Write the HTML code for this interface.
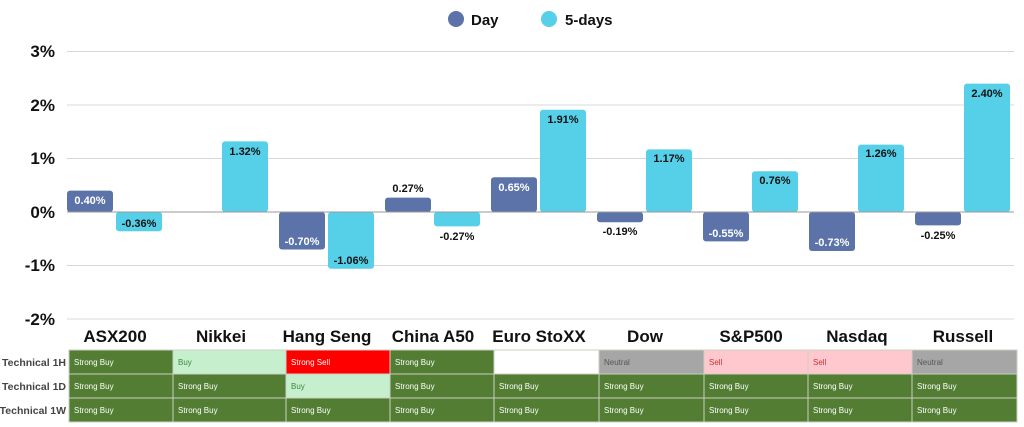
<!DOCTYPE html>
<html><head><meta charset="utf-8"><style>
body{margin:0;background:#fff;width:1024px;height:427px;overflow:hidden;font-family:"Liberation Sans",sans-serif}
svg{display:block}
.ax{font:bold 17px "Liberation Sans",sans-serif;fill:#111}
.cat{font:bold 17px "Liberation Sans",sans-serif;fill:#111;text-anchor:middle}
.lb{font:bold 11px "Liberation Sans",sans-serif;text-anchor:middle}
.w{fill:#fff}.k{fill:#111}
.rl{font:bold 10.5px "Liberation Sans",sans-serif;fill:#444;text-anchor:end}
.ct{font:8px "Liberation Sans",sans-serif}
</style></head><body>
<svg width="1024" height="427" viewBox="0 0 1024 427">
<!-- legend -->
<circle cx="456" cy="19" r="8" fill="#5b73a8"/><text x="471" y="25" style="font:bold 15px 'Liberation Sans',sans-serif" fill="#111">Day</text>
<circle cx="549" cy="19" r="8" fill="#56cfe8"/><text x="565" y="25" style="font:bold 15px 'Liberation Sans',sans-serif" fill="#111">5-days</text>
<!-- grid -->
<g stroke="#d4d8dd" stroke-width="1">
<line x1="67" x2="1014" y1="51.5" y2="51.5"/><line x1="67" x2="1014" y1="105" y2="105"/>
<line x1="67" x2="1014" y1="158.5" y2="158.5"/><line x1="67" x2="1014" y1="265.5" y2="265.5"/>
<line x1="67" x2="1014" y1="319" y2="319"/></g>
<g class="ax" text-anchor="end">
<text x="55" y="57">3%</text><text x="55" y="111">2%</text><text x="55" y="164">1%</text>
<text x="55" y="218">0%</text><text x="55" y="271">-1%</text><text x="55" y="325">-2%</text></g>
<!-- bars -->
<g fill="#5b73a8">
<rect x="67" y="190.6" width="46" height="21.4" rx="3"/>
<rect x="279" y="212" width="46" height="37.5" rx="3"/>
<rect x="385" y="197.6" width="46" height="14.4" rx="3"/>
<rect x="491" y="177.2" width="46" height="34.8" rx="3"/>
<rect x="597" y="212" width="46" height="10.2" rx="3"/>
<rect x="703" y="212" width="46" height="29.4" rx="3"/>
<rect x="809" y="212" width="46" height="39" rx="3"/>
<rect x="915" y="212" width="46" height="13.4" rx="3"/>
</g>
<g fill="#56cfe8">
<rect x="116" y="212" width="46" height="19.3" rx="3"/>
<rect x="222" y="141.4" width="46" height="70.6" rx="3"/>
<rect x="328" y="212" width="46" height="56.7" rx="3"/>
<rect x="434" y="212" width="46" height="14.4" rx="3"/>
<rect x="540" y="109.8" width="46" height="102.2" rx="3"/>
<rect x="646" y="149.4" width="46" height="62.6" rx="3"/>
<rect x="752" y="171.3" width="46" height="40.7" rx="3"/>
<rect x="858" y="144.6" width="46" height="67.4" rx="3"/>
<rect x="964" y="83.6" width="46" height="128.4" rx="3"/>
</g>
<line x1="67" x2="1014" y1="212" y2="212" stroke="#999" stroke-width="1"/>
<!-- labels -->
<g class="lb">
<text class="w" x="90" y="204">0.40%</text><text class="k" x="139" y="227">-0.36%</text>
<text class="k" x="245" y="155">1.32%</text>
<text class="w" x="302" y="245">-0.70%</text><text class="k" x="351" y="264">-1.06%</text>
<text class="k" x="408" y="192">0.27%</text><text class="k" x="457" y="240">-0.27%</text>
<text class="w" x="514" y="191">0.65%</text><text class="k" x="563" y="123">1.91%</text>
<text class="k" x="620" y="235">-0.19%</text><text class="k" x="669" y="162">1.17%</text>
<text class="w" x="726" y="237">-0.55%</text><text class="k" x="775" y="184">0.76%</text>
<text class="w" x="832" y="246">-0.73%</text><text class="k" x="881" y="157">1.26%</text>
<text class="k" x="938" y="239">-0.25%</text><text class="k" x="987" y="97">2.40%</text>
</g>
<g class="cat">
<text x="115" y="342">ASX200</text><text x="221" y="342">Nikkei</text><text x="327" y="342">Hang Seng</text>
<text x="433" y="342">China A50</text><text x="539" y="342">Euro StoXX</text><text x="645" y="342">Dow</text>
<text x="751" y="342">S&amp;P500</text><text x="857" y="342">Nasdaq</text><text x="963" y="342">Russell</text>
</g>
<!-- table -->
<g class="rl"><text x="66" y="366">Technical 1H</text><text x="66" y="390">Technical 1D</text><text x="66" y="414">Technical 1W</text></g>
<g stroke="#c8d0c0" stroke-width="1" class="ct">
<!-- row 1H -->
<rect x="69" y="350" width="104" height="24" fill="#537d33"/>
<rect x="173" y="350" width="113" height="24" fill="#c6efce"/>
<rect x="286" y="350" width="104" height="24" fill="#ff0000"/>
<rect x="390" y="350" width="104" height="24" fill="#537d33"/>
<rect x="494" y="350" width="105" height="24" fill="#fff"/>
<rect x="599" y="350" width="105" height="24" fill="#a6a6a6"/>
<rect x="704" y="350" width="104" height="24" fill="#ffc7ce"/>
<rect x="808" y="350" width="104" height="24" fill="#ffc7ce"/>
<rect x="912" y="350" width="105" height="24" fill="#a6a6a6"/>
<!-- row 1D -->
<rect x="69" y="374" width="104" height="24" fill="#537d33"/>
<rect x="173" y="374" width="113" height="24" fill="#537d33"/>
<rect x="286" y="374" width="104" height="24" fill="#c6efce"/>
<rect x="390" y="374" width="104" height="24" fill="#537d33"/>
<rect x="494" y="374" width="105" height="24" fill="#537d33"/>
<rect x="599" y="374" width="105" height="24" fill="#537d33"/>
<rect x="704" y="374" width="104" height="24" fill="#537d33"/>
<rect x="808" y="374" width="104" height="24" fill="#537d33"/>
<rect x="912" y="374" width="105" height="24" fill="#537d33"/>
<!-- row 1W -->
<rect x="69" y="398" width="104" height="24" fill="#537d33"/>
<rect x="173" y="398" width="113" height="24" fill="#537d33"/>
<rect x="286" y="398" width="104" height="24" fill="#537d33"/>
<rect x="390" y="398" width="104" height="24" fill="#537d33"/>
<rect x="494" y="398" width="105" height="24" fill="#537d33"/>
<rect x="599" y="398" width="105" height="24" fill="#537d33"/>
<rect x="704" y="398" width="104" height="24" fill="#537d33"/>
<rect x="808" y="398" width="104" height="24" fill="#537d33"/>
<rect x="912" y="398" width="105" height="24" fill="#537d33"/>
</g>
<g class="ct" fill="#fff">
<text x="74" y="365">Strong Buy</text><text x="178" y="365" fill="#3a8a3a">Buy</text><text x="291" y="365">Strong Sell</text>
<text x="395" y="365">Strong Buy</text><text x="604" y="365" fill="#555">Neutral</text>
<text x="709" y="365" fill="#d0302f">Sell</text><text x="813" y="365" fill="#d0302f">Sell</text><text x="917" y="365" fill="#555">Neutral</text>
<text x="74" y="389">Strong Buy</text><text x="178" y="389">Strong Buy</text><text x="291" y="389" fill="#3a8a3a">Buy</text>
<text x="395" y="389">Strong Buy</text><text x="499" y="389">Strong Buy</text><text x="604" y="389">Strong Buy</text>
<text x="709" y="389">Strong Buy</text><text x="813" y="389">Strong Buy</text><text x="917" y="389">Strong Buy</text>
<text x="74" y="413">Strong Buy</text><text x="178" y="413">Strong Buy</text><text x="291" y="413">Strong Buy</text>
<text x="395" y="413">Strong Buy</text><text x="499" y="413">Strong Buy</text><text x="604" y="413">Strong Buy</text>
<text x="709" y="413">Strong Buy</text><text x="813" y="413">Strong Buy</text><text x="917" y="413">Strong Buy</text>
</g>
</svg>
</body></html>
